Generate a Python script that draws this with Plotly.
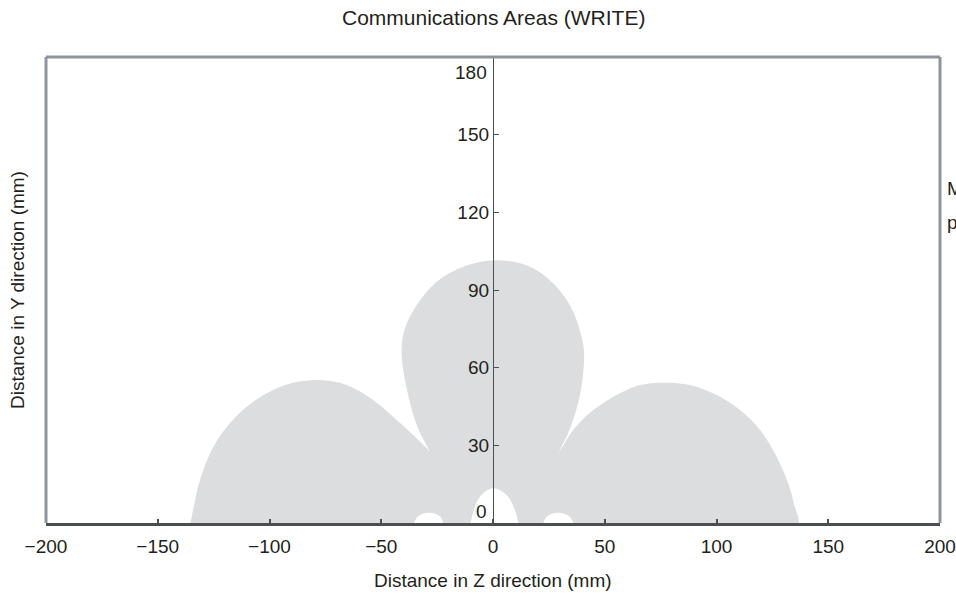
import plotly.graph_objects as go

# Communication area lobes (Z, Y in mm). Each lobe is closed below the
# antenna face; neighbouring lobes overlap slightly so their union keeps
# the sharp notches between them.
left_z = [-135.8, -133.5, -131.1, -125.1, -117.7, -110.2, -101.3, -90.8, -77.4,
          -65.5, -53.6, -43.1, -35.7, -28.2, -22.0, -22.0]
left_y = [-2.0, 8.0, 16.6, 29.5, 38.5, 44.9, 50.1, 53.9, 55.2,
          53.3, 47.5, 39.8, 34.0, 27.6, 22.4, -2.0]

centre_z = [-24.5, -28.2, -34.1, -38.6, -40.9, -39.4, -34.1, -25.2, -13.3, 1.6,
            16.6, 28.5, 35.9, 40.4, 40.7, 38.9, 34.5, 29.0, 25.8, 25.8, -24.5]
centre_y = [20.0, 27.5, 37.8, 52.0, 66.1, 75.2, 84.2, 93.2, 99.0, 101.5,
            99.0, 91.2, 81.6, 68.7, 62.3, 49.4, 36.6, 26.5, 20.5, -2.0, -2.0]

right_z = [22.0, 28.6, 35.9, 44.9, 56.8, 65.8, 76.2, 88.1, 100.1, 110.5,
           119.5, 126.9, 132.1, 134.6, 136.0, 22.0]
right_y = [22.0, 26.4, 35.9, 43.6, 50.1, 53.3, 54.2, 53.3, 49.4, 43.6,
           35.9, 25.6, 15.3, 7.5, -2.0, -2.0]

# Non-communicating pockets along the antenna face
hole_c_z = [-10.0, -8.8, -5.8, 0.0, 6.1, 9.8, 11.3]
hole_c_y = [0.0, 4.4, 10.2, 13.4, 10.8, 5.0, 0.0]
hole_l_z = [-35.3, -34.0, -31.5, -28.8, -26.0, -23.5, -22.2]
hole_l_y = [0.0, 2.2, 3.6, 4.0, 3.7, 2.3, 0.0]
hole_r_z = [22.5, 23.8, 26.3, 29.2, 32.0, 34.6, 35.9]
hole_r_y = [0.0, 2.2, 3.6, 4.0, 3.6, 2.2, 0.0]

x_ticks = [-200, -150, -100, -50, 0, 50, 100, 150, 200]
y_ticks = [30, 60, 90, 120, 150]
y_end_labels = [0, 180]

FILL = "#dcdddf"
TEXT = "#231f20"
FRAME = "#8c959b"
AXIS = "#4a4f54"
FONT = "Liberation Sans, Arial, sans-serif"
TICK_SIZE = 19
LABEL_SIZE = 19
HEAD_SIZE = 21

fig = go.Figure()
for lz, ly in [(left_z, left_y), (centre_z, centre_y), (right_z, right_y)]:
    fig.add_trace(go.Scatter(x=lz, y=ly, mode="lines", fill="toself",
                             fillcolor=FILL,
                             line=dict(width=0, color=FILL, shape="spline",
                                       smoothing=1),
                             hoverinfo="skip", showlegend=False))
for hz, hy in [(hole_c_z, hole_c_y), (hole_l_z, hole_l_y), (hole_r_z, hole_r_y)]:
    fig.add_trace(go.Scatter(x=hz, y=hy, mode="lines", fill="toself",
                             fillcolor="white",
                             line=dict(width=0, color="white", shape="spline"),
                             hoverinfo="skip", showlegend=False))

fig.update_layout(
    width=956, height=595,
    margin=dict(l=46, r=16, t=57, b=72),
    paper_bgcolor="white", plot_bgcolor="white",
    font=dict(family=FONT, color=TEXT, size=TICK_SIZE),
    xaxis=dict(range=[-200, 200], tickvals=x_ticks,
               ticktext=[f"{v}".replace("-", "\u2212") for v in x_ticks],
               ticks="inside", ticklen=4, tickcolor=AXIS, tickwidth=1.5,
               showline=True, linecolor=AXIS, linewidth=2.5,
               showgrid=False, zeroline=False, fixedrange=True,
               automargin=False,
               tickfont=dict(size=TICK_SIZE, color=TEXT), ticklabelstandoff=4),
    yaxis=dict(range=[0, 180], tickvals=y_ticks,
               ticks="inside", ticklen=5, tickcolor=AXIS, tickwidth=1.3,
               showline=True, linecolor=AXIS, linewidth=1.3,
               anchor="free", position=0.5, side="left",
               showgrid=False, zeroline=False, fixedrange=True,
               automargin=False,
               tickfont=dict(size=TICK_SIZE, color=TEXT)),
)

# Frame on the left, top and right of the plotting area
for x0, y0, x1, y1 in [(0, 0, 0, 1), (0, 1, 1, 1), (1, 0, 1, 1)]:
    fig.add_shape(type="line", xref="paper", yref="paper",
                  x0=x0, y0=y0, x1=x1, y1=y1,
                  line=dict(color=FRAME, width=3), layer="above")

# End labels of the vertical scale sit inside the frame
fig.add_annotation(x=0, y=y_end_labels[0], xref="x", yref="y",
                   text=str(y_end_labels[0]), showarrow=False,
                   xanchor="right", yanchor="bottom", xshift=-4, yshift=-1,
                   font=dict(size=TICK_SIZE, color=TEXT))
fig.add_annotation(x=0, y=y_end_labels[1], xref="x", yref="y",
                   text=str(y_end_labels[1]), showarrow=False,
                   xanchor="right", yanchor="top", xshift=-4, yshift=-3,
                   font=dict(size=TICK_SIZE, color=TEXT))

fig.add_annotation(text="Communications Areas (WRITE)", xref="paper", yref="paper",
                   x=0.5, y=1 + 39 / 466, showarrow=False,
                   xanchor="center", yanchor="middle",
                   font=dict(size=HEAD_SIZE, color=TEXT))
fig.add_annotation(text="Distance in Z direction (mm)", xref="paper", yref="paper",
                   x=0.5, y=-57 / 466, showarrow=False,
                   xanchor="center", yanchor="middle",
                   font=dict(size=LABEL_SIZE, color=TEXT))
fig.add_annotation(text="Distance in Y direction (mm)", xref="paper", yref="paper",
                   x=-29 / 894, y=0.5, showarrow=False, textangle=-90,
                   xanchor="center", yanchor="middle",
                   font=dict(size=LABEL_SIZE, color=TEXT))
fig.add_annotation(text="Mounting", xref="paper", yref="paper",
                   x=899 / 894, y=(523 - 188) / 466, showarrow=False,
                   xanchor="left", yanchor="middle",
                   font=dict(size=LABEL_SIZE, color=TEXT))
fig.add_annotation(text="position", xref="paper", yref="paper",
                   x=899 / 894, y=(523 - 222) / 466, showarrow=False,
                   xanchor="left", yanchor="middle",
                   font=dict(size=LABEL_SIZE, color=TEXT))

fig.write_html("out.html")
